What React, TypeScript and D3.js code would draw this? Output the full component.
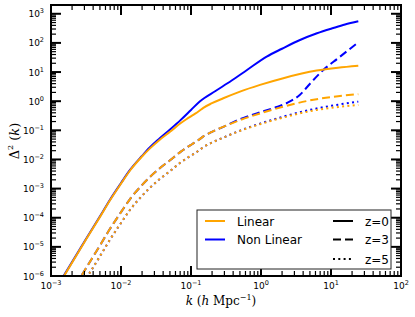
import React from 'react';
import * as d3 from 'd3';

// wavenumber grid for linear spectra (h/Mpc)
const kLinear = [0.001, 0.001535, 0.003162, 0.005012, 0.006966, 0.01, 0.01346, 0.01995, 0.02594, 0.03548, 0.05012, 0.07079, 0.0869, 0.1047, 0.1148, 0.1318, 0.15, 0.1995, 0.2891, 0.5012, 0.9683, 2.084, 6.237, 12.59, 24.55];
const linearZ0 = [1.78e-7, 1e-6, 1.78e-5, 1.07e-4, 3.98e-4, 1.48e-3, 4.17e-3, 0.0126, 0.024, 0.0468, 0.0891, 0.174, 0.245, 0.324, 0.372, 0.468, 0.589, 0.851, 1.259, 2.138, 3.631, 6.166, 11.22, 14.13, 16.6];
const linearZ3 = [1.86e-8, 1.05e-7, 1.86e-6, 1.12e-5, 4.17e-5, 1.55e-4, 4.37e-4, 1.32e-3, 2.51e-3, 4.9e-3, 9.33e-3, 0.0182, 0.02565, 0.0339, 0.0389, 0.049, 0.0617, 0.0891, 0.132, 0.224, 0.38, 0.646, 1.175, 1.479, 1.738];
const linearZ5 = [7.95e-9, 4.47e-8, 7.95e-7, 4.78e-6, 1.78e-5, 6.61e-5, 1.86e-4, 5.63e-4, 1.07e-3, 2.09e-3, 3.98e-3, 7.77e-3, 0.01094, 0.01447, 0.01662, 0.0209, 0.0263, 0.038, 0.0562, 0.0955, 0.162, 0.275, 0.501, 0.631, 0.741];

const kNonLinearZ0 = [0.001, 0.001535, 0.003162, 0.005012, 0.006966, 0.01, 0.01346, 0.01995, 0.02594, 0.03548, 0.05012, 0.07079, 0.1, 0.1346, 0.2239, 0.3767, 0.631, 1.205, 1.995, 3.606, 6.31, 10.79, 15.85, 24.55];
const nonLinearZ0 = [1.86e-7, 1.05e-6, 1.86e-5, 1.12e-4, 4.17e-4, 1.55e-3, 4.37e-3, 0.0132, 0.0263, 0.0525, 0.107, 0.224, 0.5, 1.0, 2.239, 5.01, 11.75, 33.9, 63.1, 125.9, 213.8, 323.6, 426.6, 549.5];

const kNonLinearZ3 = [0.001, 0.001535, 0.003162, 0.005012, 0.006966, 0.01, 0.01346, 0.01995, 0.02594, 0.03548, 0.05012, 0.07079, 0.0869, 0.1047, 0.1148, 0.1318, 0.15, 0.1995, 0.2891, 0.5012, 0.9683, 1.675, 2.594, 3.606, 5.012, 7.762, 12.71, 24.55];
const nonLinearZ3 = [1.86e-8, 1.05e-7, 1.86e-6, 1.12e-5, 4.17e-5, 1.55e-4, 4.37e-4, 1.32e-3, 2.51e-3, 4.9e-3, 9.33e-3, 0.0182, 0.02565, 0.0339, 0.0389, 0.049, 0.0617, 0.0891, 0.132, 0.24, 0.417, 0.631, 0.977, 1.66, 3.98, 11.75, 30.2, 105];

const kNonLinearZ5 = [0.001, 0.001535, 0.003162, 0.005012, 0.006966, 0.01, 0.01346, 0.01995, 0.02594, 0.03548, 0.05012, 0.07079, 0.0869, 0.1047, 0.1148, 0.1318, 0.15, 0.1995, 0.2891, 0.5012, 0.9683, 2.084, 6.237, 12.59, 24.55];
const nonLinearZ5 = [7.95e-9, 4.47e-8, 7.95e-7, 4.78e-6, 1.78e-5, 6.61e-5, 1.86e-4, 5.63e-4, 1.07e-3, 2.09e-3, 3.98e-3, 7.77e-3, 0.01094, 0.01447, 0.01662, 0.0209, 0.0263, 0.038, 0.0562, 0.0977, 0.17, 0.295, 0.562, 0.759, 0.966];

const xTickExponents = [-3, -2, -1, 0, 1, 2];
const yTickExponents = [-6, -5, -4, -3, -2, -1, 0, 1, 2, 3];

const ORANGE = '#FFA500';
const BLUE = '#0000FF';
const DASH = '8,4';
const DOT = '2,3.3';

const W = 415, H = 317;
const L = 51, R = 401, T = 5, B = 276;

export default function App() {
  const x = d3.scaleLog().domain([1e-3, 1e2]).range([L, R]);
  const y = d3.scaleLog().domain([1e-6, 2e3]).range([B, T]);
  const line = d3.line<[number, number]>()
    .x(d => x(d[0]))
    .y(d => y(d[1]))
    .curve(d3.curveMonotoneX);
  const mk = (ks: number[], vs: number[]) => line(ks.map((k, i) => [k, vs[i]] as [number, number])) || '';

  const series = [
    { d: mk(kNonLinearZ0, nonLinearZ0), color: BLUE, dash: undefined },
    { d: mk(kNonLinearZ3, nonLinearZ3), color: BLUE, dash: DASH },
    { d: mk(kNonLinearZ5, nonLinearZ5), color: BLUE, dash: DOT },
    { d: mk(kLinear, linearZ0), color: ORANGE, dash: undefined },
    { d: mk(kLinear, linearZ3), color: ORANGE, dash: DASH },
    { d: mk(kLinear, linearZ5), color: ORANGE, dash: DOT },
  ];

  const xMajor = xTickExponents.map(e => Math.pow(10, e));
  const xMinor: number[] = [];
  xTickExponents.slice(0, -1).forEach(e => { for (let m = 2; m <= 9; m++) xMinor.push(m * Math.pow(10, e)); });
  const yMajor = yTickExponents.map(e => Math.pow(10, e));
  const yMinor: number[] = [];
  yTickExponents.forEach(e => { for (let m = 2; m <= 9; m++) { const v = m * Math.pow(10, e); if (v < 1.99e3) yMinor.push(v); } });

  const MAJ = 10, MIN = 5;
  const tickFont = 'DejaVu Sans, sans-serif';
  const fmtExp = (e: number) => (e < 0 ? '\u2212' + Math.abs(e) : String(e));

  return (
    <svg width={W} height={H} style={{ position: 'absolute', left: 0, top: 0, background: '#fff' }}>
      <defs>
        <clipPath id="plotclip"><rect x={L} y={T} width={R - L} height={B - T} /></clipPath>
      </defs>
      <rect x={0} y={0} width={W} height={H} fill="#fff" />
      <g clipPath="url(#plotclip)">
        {series.map((s, i) => (
          <path key={i} d={s.d} fill="none" stroke={s.color} strokeWidth={2} strokeDasharray={s.dash} />
        ))}
      </g>
      {/* ticks */}
      <g stroke="#000">
        {xMajor.map((v, i) => (
          <g key={'xM' + i} strokeWidth={2}>
            <line x1={x(v)} x2={x(v)} y1={B} y2={B - MAJ} />
            <line x1={x(v)} x2={x(v)} y1={T} y2={T + MAJ} />
          </g>
        ))}
        {xMinor.map((v, i) => (
          <g key={'xm' + i} strokeWidth={1.2}>
            <line x1={x(v)} x2={x(v)} y1={B} y2={B - MIN} />
            <line x1={x(v)} x2={x(v)} y1={T} y2={T + MIN} />
          </g>
        ))}
        {yMajor.map((v, i) => (
          <g key={'yM' + i} strokeWidth={2}>
            <line x1={L} x2={L + MAJ} y1={y(v)} y2={y(v)} />
            <line x1={R} x2={R - MAJ} y1={y(v)} y2={y(v)} />
          </g>
        ))}
        {yMinor.map((v, i) => (
          <g key={'ym' + i} strokeWidth={1.2}>
            <line x1={L} x2={L + MIN} y1={y(v)} y2={y(v)} />
            <line x1={R} x2={R - MIN} y1={y(v)} y2={y(v)} />
          </g>
        ))}
      </g>
      <rect x={L} y={T} width={R - L} height={B - T} fill="none" stroke="#000" strokeWidth={2} />
      {/* tick labels */}
      <g fontFamily={tickFont} fill="#000">
        {xTickExponents.map((e, i) => (
          <text key={'xl' + i} x={x(Math.pow(10, e))} y={289} textAnchor="middle" fontSize={9}>
            <tspan>10</tspan>
            <tspan fontSize={6.5} dy={-4}>{fmtExp(e)}</tspan>
          </text>
        ))}
        {yTickExponents.map((e, i) => (
          <text key={'yl' + i} x={44} y={y(Math.pow(10, e)) + 3.5} textAnchor="end" fontSize={9}>
            <tspan>10</tspan>
            <tspan fontSize={6.5} dy={-4}>{fmtExp(e)}</tspan>
          </text>
        ))}
      </g>
      {/* axis labels */}
      <text x={221} y={305} textAnchor="middle" fontFamily="DejaVu Serif, serif" fontSize={12}>
        <tspan fontStyle="italic">k</tspan>
        <tspan> (</tspan>
        <tspan fontStyle="italic">h</tspan>
        <tspan> Mpc</tspan>
        <tspan fontSize={8} dy={-5}>{'\u2212'}1</tspan>
        <tspan dy={5}>)</tspan>
      </text>
      <text transform={`translate(19,141) rotate(-90)`} textAnchor="middle" fontFamily="DejaVu Serif, serif" fontSize={13}>
        <tspan>Δ</tspan>
        <tspan fontSize={8} dy={-6}>2</tspan>
        <tspan dy={6}> (</tspan>
        <tspan fontStyle="italic">k</tspan>
        <tspan>)</tspan>
      </text>
      {/* legend */}
      <g>
        <rect x={197} y={210} width={194} height={59} fill="#fff" stroke="#222" strokeWidth={1} />
        <line x1={205} x2={225} y1={221} y2={221} stroke={ORANGE} strokeWidth={2} />
        <line x1={205} x2={225} y1={239.5} y2={239.5} stroke={BLUE} strokeWidth={2} />
        <text x={237} y={225.5} fontFamily="DejaVu Sans, sans-serif" fontSize={12}>Linear</text>
        <text x={237} y={244} fontFamily="DejaVu Sans, sans-serif" fontSize={12}>Non Linear</text>
        <line x1={333} x2={353} y1={221} y2={221} stroke="#000" strokeWidth={2} />
        <line x1={333} x2={353} y1={239.5} y2={239.5} stroke="#000" strokeWidth={2} strokeDasharray={DASH} />
        <line x1={333} x2={353} y1={259} y2={259} stroke="#000" strokeWidth={2} strokeDasharray={DOT} />
        <text x={365} y={225.5} fontFamily="DejaVu Sans, sans-serif" fontSize={12}>z=0</text>
        <text x={365} y={244} fontFamily="DejaVu Sans, sans-serif" fontSize={12}>z=3</text>
        <text x={365} y={263.5} fontFamily="DejaVu Sans, sans-serif" fontSize={12}>z=5</text>
      </g>
    </svg>
  );
}
